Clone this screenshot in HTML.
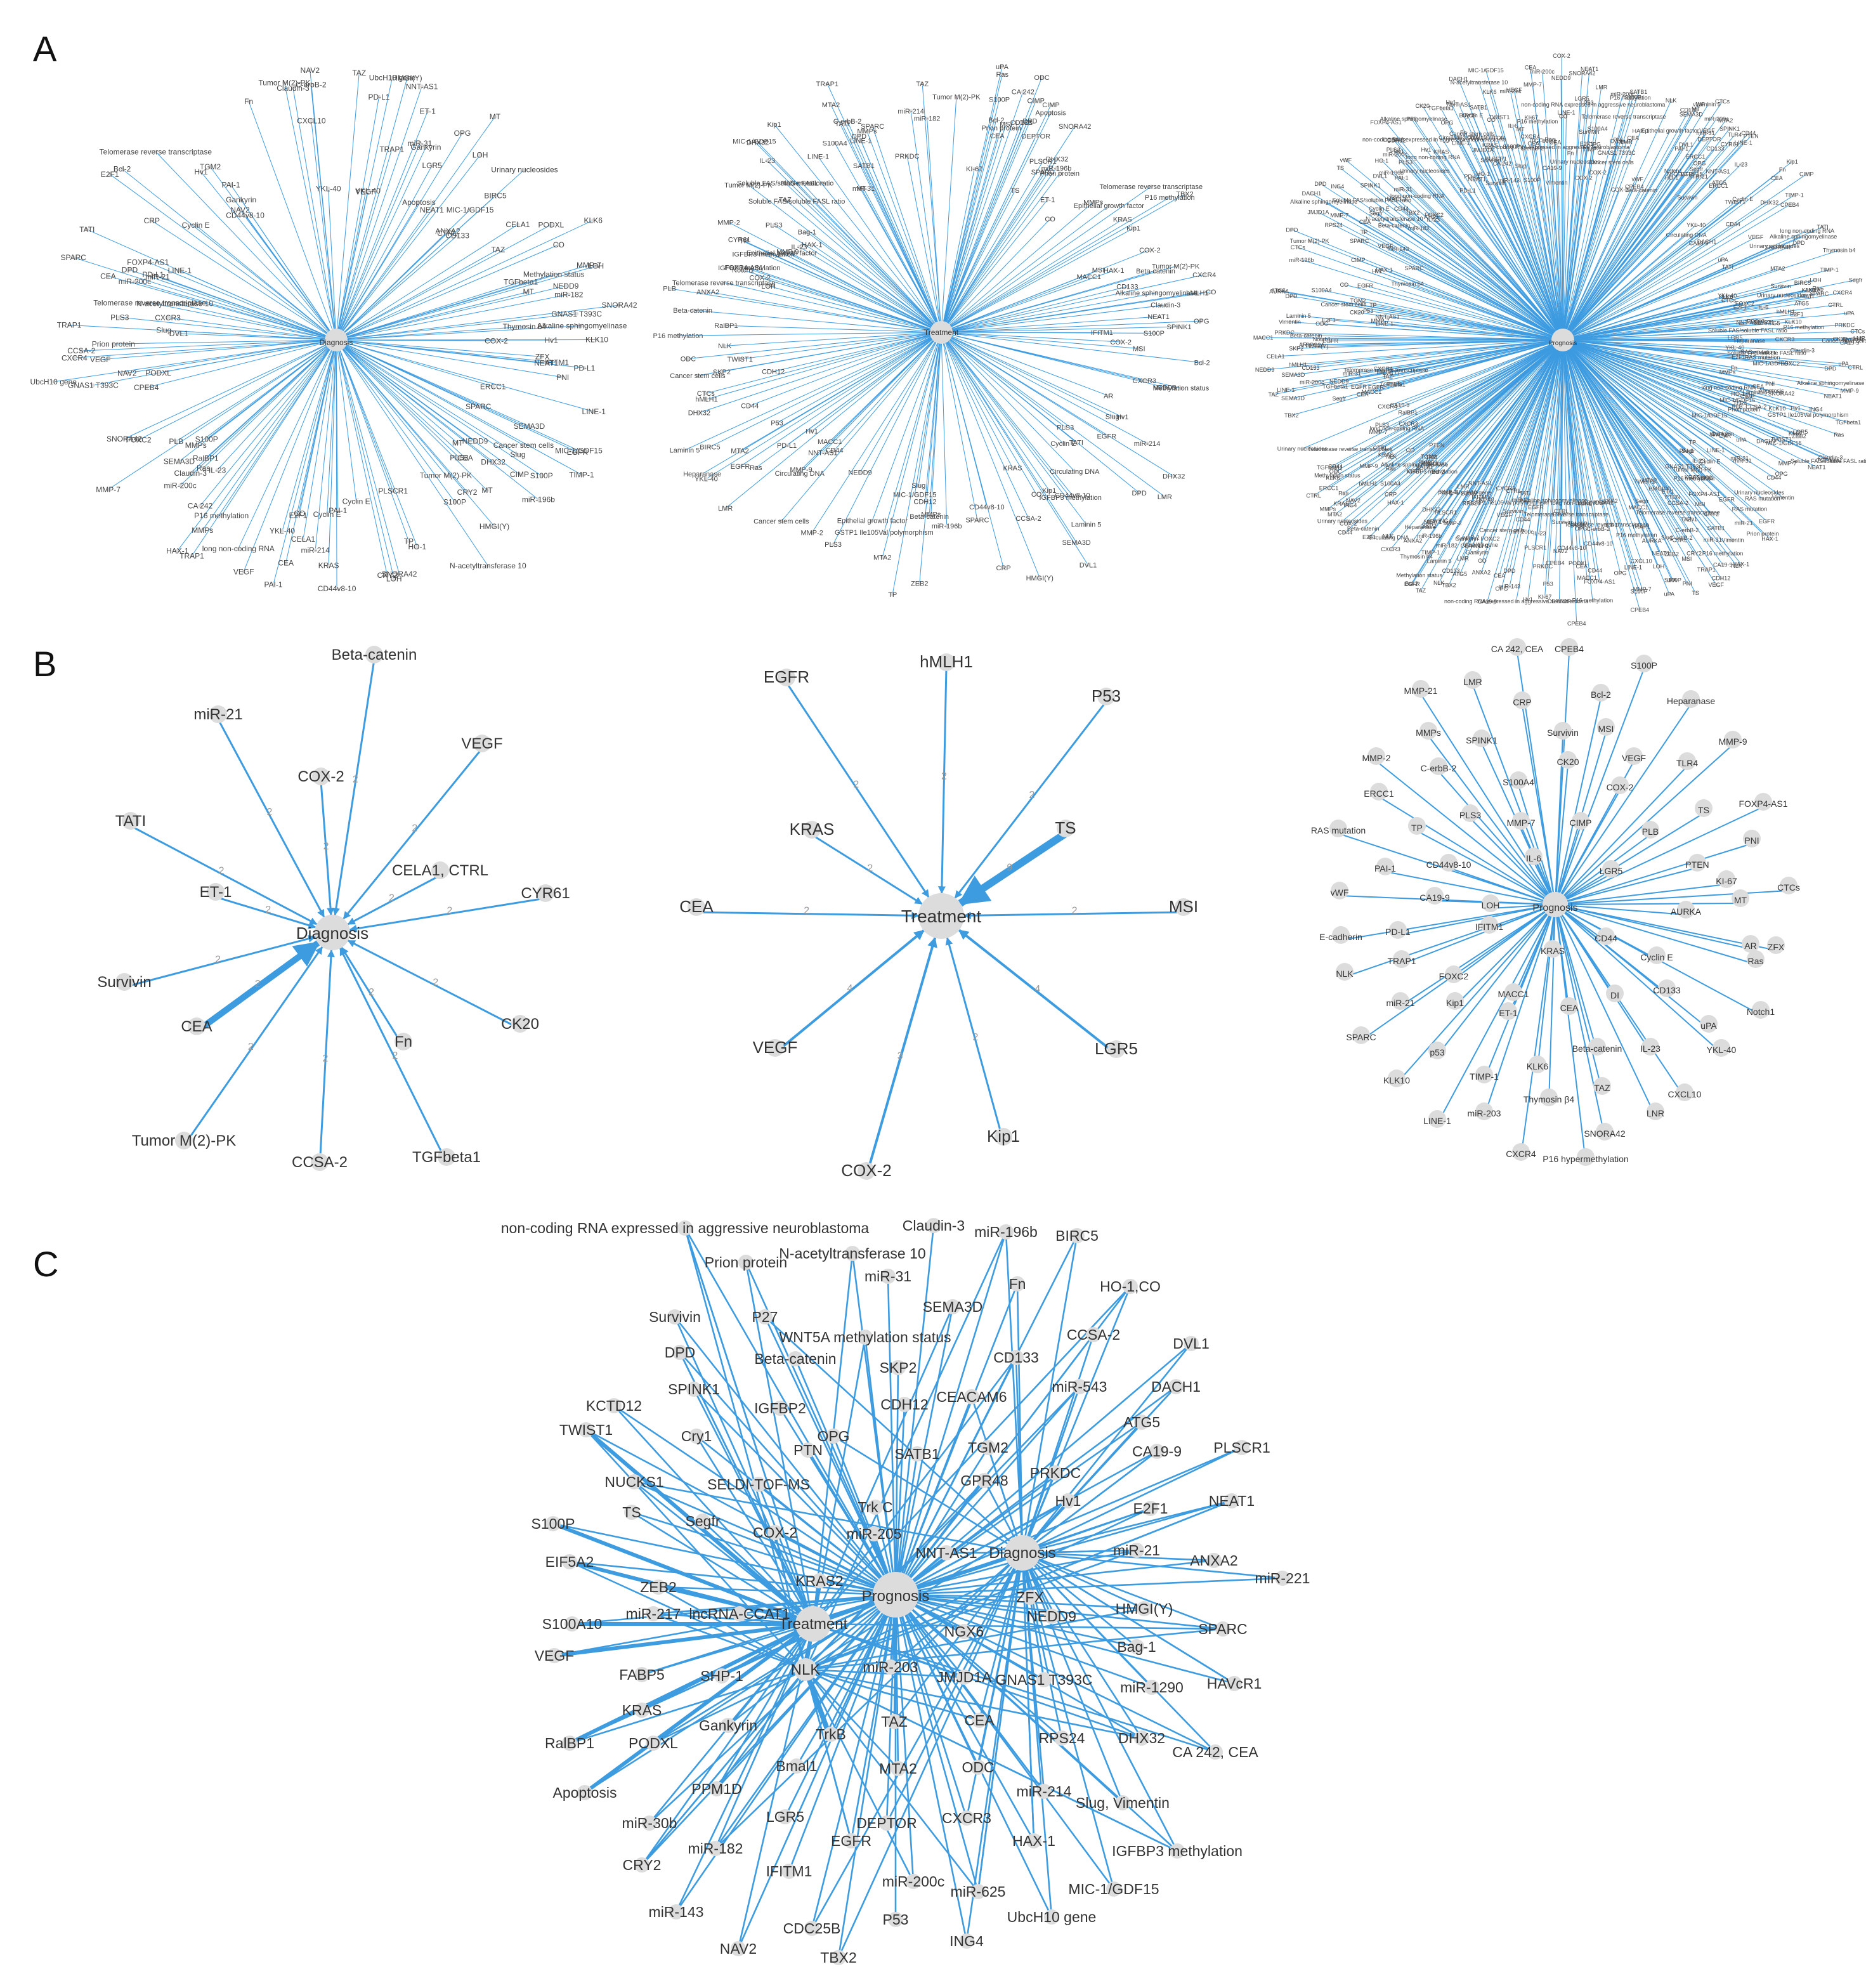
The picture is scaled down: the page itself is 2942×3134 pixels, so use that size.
<!DOCTYPE html>
<html><head><meta charset="utf-8">
<style>
html,body{margin:0;padding:0;background:#fff;}
svg{display:block;}
text{font-family:"Liberation Sans",sans-serif;fill:#333;}
</style></head>
<body>
<svg id="s" xmlns="http://www.w3.org/2000/svg" width="2942" height="3134" viewBox="0 0 1471 1567">
<defs>
<marker id="ar" viewBox="0 0 10 10" refX="9" refY="5" markerWidth="4" markerHeight="4" orient="auto"><path d="M0,0L10,5L0,10z" fill="#3d9be0"/></marker>
</defs>
<text x="26" y="48" style="font-size:28px;fill:#111">A</text>
<text x="26" y="533" style="font-size:28px;fill:#111">B</text>
<text x="26" y="1006" style="font-size:28px;fill:#111">C</text>
<g id="L"></g><g id="N"></g><g id="T"></g>
</svg>
<script>
var NS="http://www.w3.org/2000/svg";
var gL=document.getElementById('L'),gN=document.getElementById('N'),gT=document.getElementById('T');
var BLUE="#3d9be0";
function el(g,n,a){var e=document.createElementNS(NS,n);for(var k in a)e.setAttribute(k,a[k]);g.appendChild(e);return e;}
function line(x1,y1,x2,y2,w,arrow){var a={x1:x1,y1:y1,x2:x2,y2:y2,stroke:BLUE,'stroke-width':w||1};if(arrow)a['marker-end']='url(#ar)';el(gL,'line',a);}
function dot(x,y,r){el(gN,'circle',{cx:x,cy:y,r:r,fill:'#dcdcdc'});}
function txt(x,y,s,sz,anc,col){var t=el(gT,'text',{x:x,y:y,'font-size':sz,'text-anchor':anc||'middle'});if(col)t.setAttribute('style','fill:'+col);t.textContent=s;}
var seed=7;function rnd(){seed=(seed*16807)%2147483647;return (seed-1)/2147483646;}
var names="Survivin,VEGF,CEA,KRAS,miR-21,COX-2,Beta-catenin,MMP-9,TS,P53,EGFR,CD44,CK20,LGR5,TIMP-1,SPARC,miR-200c,Bcl-2,CDH12,NEDD9,PTEN,CA19-9,Fn,TATI,ET-1,CYR61,TGFbeta1,CCSA-2,MACC1,ZEB2,TWIST1,SKP2,ATG5,KI-67,miR-143,miR-31,DPD,OPG,TGM2,SATB1,NLK,TAZ,ODC,HAX-1,ING4,NAV2,TBX2,PRKDC,Hv1,E2F1,NEAT1,ANXA2,SPINK1,S100P,S100A4,MMP-7,MMP-2,PAI-1,LOH,IFITM1,CIMP,Kip1,MSI,hMLH1,LINE-1,CXCR4,KLK6,KLK10,TRAP1,FOXC2,AURKA,CD133,uPA,IL-6,PLS3,Heparanase,CRP,CPEB4,Claudin-3,BIRC5,DVL1,DACH1,PLSCR1,HMGI(Y),Bag-1,RPS24,DHX32,Gankyrin,PODXL,RalBP1,Apoptosis,miR-182,CRY2,EGFR,DEPTOR,CXCR3,MTA2,miR-214,Slug, Vimentin,CA 242, CEA,Tumor M(2)-PK,CELA1, CTRL,Circulating DNA,Methylation status,miR-196b,N-acetyltransferase 10,Prion protein,SEMA3D,HO-1,CO,Segfr,NNT-AS1,JMJD1A,GNAS1 T393C,UbcH10 gene,MIC-1/GDF15,IGFBP3 methylation,Thymosin b4,SNORA42,CXCL10,YKL-40,Notch1,Cyclin E,PD-L1,vWF,RAS mutation,ERCC1,C-erbB-2,MMPs,LMR,S100P,TLR4,FOXP4-AS1,PNI,CTCs,AR,ZFX,Ras,MT,PLB,IL-23,TP,CD44v8-10,Alkaline sphingomyelinase,Urinary nucleosides,P16 methylation,Laminin 5,Cancer stem cells,Telomerase reverse transcriptase,GSTP1 Ile105Val polymorphism,non-coding RNA expressed in aggressive neuroblastoma,Soluble FAS/soluble FASL ratio,long non-coding RNA,Epithelial growth factor".split(',');
function hair(cx,cy,R,n,sz,seedv){seed=seedv;
 for(var i=0;i<n;i++){var a=rnd()*Math.PI*2,r=R*(0.55+0.45*rnd());
  var x=cx+Math.cos(a)*r*1.05,y=cy+Math.sin(a)*r;line(cx,cy,x,y,0.5);
  dot(x,y,1.5);txt(x,y+sz*0.35,names[Math.floor(rnd()*names.length)],sz,'middle','#444');}
 dot(cx,cy,9);}
hair(265,268,215,150,6,11);
hair(742,262,215,170,5.5,23);
hair(1232,268,225,560,4.5,37);
txt(265,272,'Diagnosis',6);txt(742,264,'Treatment',6);txt(1232,272,'Prognosis',5);

var B1=[["Beta-catenin",295,520],["miR-21",172,567],["COX-2",253,616],["VEGF",380,590],["TATI",103,651],["CELA1, CTRL",347,690],["ET-1",170,707],["CYR61",430,708],["Survivin",98,778],["CEA",155,813,5],["CK20",410,811],["Fn",318,825],["Tumor M(2)-PK",145,903],["CCSA-2",252,920],["TGFbeta1",352,916]];
function star(cx,cy,hub,arr,hr,arrow,sz,lab){arr.forEach(function(d){var x=d[1],y=d[2];var dx=cx-x,dy=cy-y,L=Math.hypot(dx,dy);
 var ex=cx-dx/L*hr,ey=cy-dy/L*hr;line(x,y,ex,ey,d[3]||1.5,arrow);dot(x,y-4,7);
 if(lab)txt(x+dx*0.45,y+dy*0.45,d[4]||'2',8,'middle','#999');txt(x,y,d[0],sz);});
 dot(cx,cy,hr);txt(cx,cy+5,hub,sz+1);}
star(262,735,'Diagnosis',B1,14,true,12,true);
var B2=[["EGFR",620,538],["hMLH1",746,526],["P53",872,553],["KRAS",640,658],["TS",840,657,6,'9'],["CEA",549,719],["MSI",933,719],["VEGF",611,830,2,'4'],["LGR5",880,831,2,'4'],["Kip1",791,900],["COX-2",683,927,2,'3']];
star(742,722,'Treatment',B2,18,true,13,true);
var B3=[["CA 242, CEA",1196,514],["CPEB4",1237,514],["S100P",1296,527],["MMP-21",1120,547],["LMR",1161,540],["CRP",1200,556],["Bcl-2",1262,550],["Heparanase",1333,555],["MMPs",1126,580],["SPINK1",1168,586],["Survivin",1232,580],["MSI",1266,577],["MMP-9",1366,587],["MMP-2",1085,600],["C-erbB-2",1134,608],["CK20",1236,603],["VEGF",1288,600],["TLR4",1330,604],["S100A4",1197,619],["COX-2",1277,623],["ERCC1",1087,628],["PLS3",1159,645],["MMP-7",1199,651],["CIMP",1246,651],["FOXP4-AS1",1390,636],["TS",1343,641],["RAS mutation",1055,657],["TP",1117,655],["PLB",1301,658],["PNI",1381,665],["PAI-1",1092,687],["CD44v8-10",1142,684],["IL-6",1209,679],["LGR5",1270,689],["PTEN",1338,684],["KI-67",1361,697],["vWF",1056,706],["CA19-9",1131,710],["CTCs",1410,702],["LOH",1175,716],["MT",1372,712],["AURKA",1329,721],["PD-L1",1102,737],["IFITM1",1174,733],["E-cadherin",1057,741],["CD44",1266,742],["AR",1380,748],["ZFX",1400,749],["TRAP1",1105,760],["Cyclin E",1306,757],["Ras",1384,760],["KRAS",1224,752],["NLK",1060,770],["FOXC2",1146,772],["DI",1273,787],["CD133",1314,783],["Notch1",1388,800],["miR-21",1104,793],["MACC1",1193,786],["Kip1",1147,793],["ET-1",1189,801],["CEA",1237,797],["SPARC",1073,820],["uPA",1347,811],["p53",1133,832],["Beta-catenin",1259,829],["IL-23",1301,829],["YKL-40",1357,830],["KLK6",1212,843],["KLK10",1101,854],["TIMP-1",1170,851],["TAZ",1263,860],["CXCL10",1328,865],["Thymosin β4",1221,869],["LINE-1",1133,886],["miR-203",1170,880],["LNR",1305,880],["SNORA42",1265,896],["CXCR4",1199,912],["P16 hypermethylation",1250,916]];
B3.forEach(function(d){d[3]=1;});
star(1226,713,'Prognosis',B3,10,false,7,false);

var H={P:[706,1257],T:[641,1280],D:[806,1224],N:[635,1316]};
var C=[["non-coding RNA expressed in aggressive neuroblastoma",540,972],["Claudin-3",736,970],["miR-196b",793,975],["BIRC5",849,978],["Prion protein",588,999],["N-acetyltransferase 10",672,992],["miR-31",700,1010],["Fn",802,1016],["HO-1,CO",891,1018],["SEMA3D",751,1034],["P27",603,1042],["Survivin",532,1042],["CCSA-2",862,1056],["DVL1",939,1063],["WNT5A methylation status",682,1058],["DPD",536,1070],["Beta-catenin",627,1075],["CD133",801,1074],["SKP2",708,1082],["DACH1",927,1097],["miR-543",851,1097],["KCTD12",484,1112],["SPINK1",547,1099],["IGFBP2",615,1114],["CDH12",713,1111],["CEACAM6",766,1105],["ATG5",900,1125],["TWIST1",462,1131],["Cry1",549,1136],["OPG",657,1136],["PTN",637,1147],["TGM2",779,1145],["CA19-9",912,1148],["PLSCR1",979,1145],["SATB1",723,1150],["GPR48",776,1171],["PRKDC",832,1165],["NUCKS1",500,1172],["SELDI-TOF-MS",598,1174],["Hv1",842,1187],["NEAT1",971,1187],["TS",498,1196],["Trk C",690,1192],["E2F1",907,1193],["S100P",436,1205],["Segfr",554,1203],["COX-2",611,1212],["miR-205",689,1213],["NNT-AS1",746,1228],["miR-21",896,1226],["ANXA2",957,1234],["EIF5A2",449,1235],["ZEB2",519,1255],["KRAS2",646,1250],["miR-221",1011,1248],["ZFX",812,1263],["HMGI(Y)",902,1272],["miR-217",515,1276],["lncRNA-CCAT1",583,1276],["NEDD9",829,1278],["S100A10",451,1284],["SPARC",964,1288],["NGX6",760,1290],["VEGF",437,1309],["Bag-1",896,1302],["FABP5",506,1324],["SHP-1",569,1325],["miR-203",702,1318],["JMJD1A",760,1326],["GNAS1 T393C",823,1328],["miR-1290",908,1334],["HAVcR1",973,1331],["KRAS",506,1352],["Gankyrin",574,1364],["TAZ",705,1361],["CEA",772,1360],["PODXL",515,1378],["RalBP1",449,1378],["TrkB",655,1371],["RPS24",837,1374],["DHX32",900,1374],["CA 242, CEA",958,1385],["Bmal1",628,1396],["MTA2",708,1398],["ODC",771,1397],["Apoptosis",461,1417],["PPM1D",565,1414],["miR-214",823,1416],["Slug, Vimentin",885,1425],["LGR5",619,1436],["DEPTOR",699,1441],["CXCR3",762,1437],["miR-30b",512,1441],["EGFR",671,1455],["HAX-1",815,1455],["IGFBP3 methylation",928,1463],["miR-182",564,1461],["CRY2",506,1474],["IFITM1",622,1479],["miR-200c",720,1487],["miR-625",771,1495],["MIC-1/GDF15",878,1493],["miR-143",533,1511],["CDC25B",640,1524],["P53",706,1517],["UbcH10 gene",829,1515],["ING4",762,1534],["NAV2",582,1540],["TBX2",661,1547]];
seed=99;
C.forEach(function(d,i){var x=d[1],y=d[2];
 var hs=['P'];var r=rnd();
 if(x>760)hs.push('D');else if(x<600)hs.push('T');
 if(r<0.45)hs.push(['T','D','N'][Math.floor(rnd()*3)]);
 if(r<0.15)hs.push('N');
 hs.forEach(function(h){line(x,y-4,H[h][0],H[h][1],(x<470&&h=='T')?3:1.3);});
 dot(x,y-4,6);txt(x,y,d[0],11.5);});
[['P','Prognosis',18],['T','Treatment',14],['D','Diagnosis',14],['N','NLK',9]].forEach(function(h){dot(H[h[0]][0],H[h[0]][1],h[2]);});
line(706,1257,641,1280,3);line(706,1257,806,1224,3);line(641,1280,635,1316,3);line(635,1316,655,1371,4);
txt(706,1262,'Prognosis',12);txt(641,1284,'Treatment',12);txt(806,1228,'Diagnosis',12);txt(635,1320,'NLK',12);
</script>
</body></html>
